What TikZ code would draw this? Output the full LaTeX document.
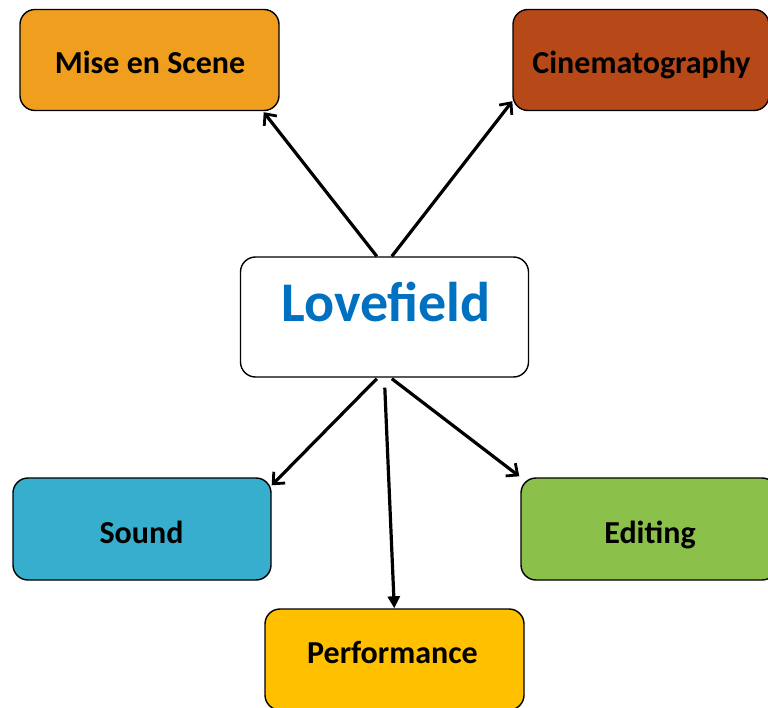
\documentclass[tikz,border=0pt]{standalone}
\usepackage{fontspec}
\setmainfont{Carlito}
\usetikzlibrary{arrows.meta,calc}
\definecolor{cmise}{RGB}{240,158,30}
\definecolor{ccine}{RGB}{183,73,25}
\definecolor{csound}{RGB}{55,174,205}
\definecolor{cedit}{RGB}{139,192,74}
\definecolor{cperf}{RGB}{255,192,0}
\definecolor{clove}{RGB}{0,112,192}
\tikzset{
  box/.style={draw=black, line width=1.4pt, rounded corners=15pt, inner sep=0pt},
  lbl/.style={anchor=base, font=\bfseries\fontsize{32}{38}\selectfont, text=black, inner sep=0pt},
  conn/.style={line width=3.2pt, -{Straight Barb[length=9pt,width=16pt,line width=2.8pt]}},
  connf/.style={line width=3.2pt, -{Triangle[length=12pt,width=12pt]}}
}
\begin{document}
\begin{tikzpicture}[x=1pt,y=-1pt]
\useasboundingbox (0,0) rectangle (768,708);
\clip (0,0) rectangle (768,708);
\fill[white] (0,0) rectangle (768,708);
% boxes
\node[box, fill=cmise, minimum width=259pt, minimum height=101pt] (mise) at (149.5,60) {};
\node[box, fill=ccine, minimum width=256pt, minimum height=101pt] (cine) at (641,60) {};
\node[box, fill=white, minimum width=288pt, minimum height=120pt] (love) at (384.5,317) {};
\node[box, fill=csound, minimum width=258pt, minimum height=102pt] (sound) at (142,529) {};
\node[box, fill=cedit, minimum width=256pt, minimum height=102pt] (edit) at (649,529) {};
\node[box, fill=cperf, minimum width=259pt, minimum height=101pt] (perf) at (394.5,659.5) {};
% labels
\node[lbl] (tmise) at (150,74) {Mise en Scene};
\node[lbl] (tcine) at (641.5,74) {Cinematography};
\node[lbl, text=clove, font=\bfseries\fontsize{56}{64}\selectfont] (tlove) at (386,322) {Lovefield};
\node[lbl] (tsound) at (141.5,543) {Sound};
\node[lbl] (tedit) at (650,543) {Editing};
\node[lbl] (tperf) at (392.5,663) {Performance};
% connectors
\draw[conn] ($(love.north west)+(137,0)$) -- ($(mise.south east)+(-16,1)$);
\draw[conn] ($(love.north west)+(152,0)$) -- ($(cine.south west)+(0,-10)$);
\draw[conn] ($(love.south west)+(137,1)$) -- ($(sound.north east)+(0,8)$);
\draw[connf] ($(love.south west)+(145,10)$) -- ($(perf.north west)+(130,0)$);
\draw[conn] ($(love.south west)+(152,1)$) -- ($(edit.north west)+(-1,-1)$);
\end{tikzpicture}
\end{document}
